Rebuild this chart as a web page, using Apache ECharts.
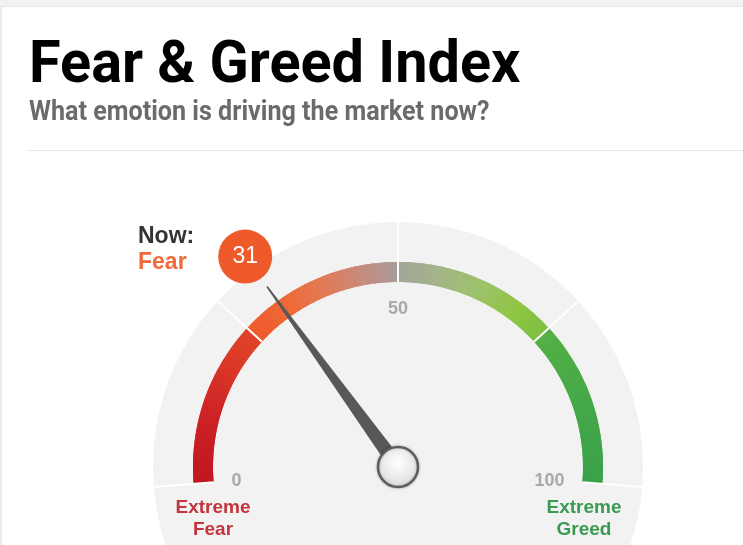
<!DOCTYPE html>
<html>
<head>
<meta charset="utf-8">
<script src="https://cdn.jsdelivr.net/npm/echarts@6/dist/echarts.min.js"></script>
<style>
html,body{margin:0;padding:0;background:#fff;}
#chart{width:743px;height:545px;}
</style>
</head>
<body>
<div id="chart"></div>
<script>
// ---------------- data ----------------
const titleText = 'Fear & Greed Index';
const subtitleText = 'What emotion is driving the market now?';
const scaleMin = 0;
const scaleMax = 100;
const zoneBreaks = [0, 25, 50, 75, 100];
const axisTickLabels = ['0', '50', '100'];
const currentValue = 31;
const currentRating = 'Fear';
const nowLabel = 'Now:';
const endLabels = ['Extreme\nFear', 'Extreme\nGreed'];

// ---------------- style / layout ----------------
const CX = 398, CY = 467;
const START_ANGLE = 184.7, END_ANGLE = -4.7;
const BAND_OUTER = 205, BAND_WIDTH = 20;
const DISK_RADIUS = 245;
const BADGE_RADIUS = 260;

const bandStops = [
  [0, '#c0161f'], [10, '#cc2226'], [20, '#dc3a28'], [25, '#e0442a'],
  [25, '#ee5a2a'], [32, '#ef6a38'], [38, '#e27a55'], [44, '#c98a7c'], [50, '#a89c9b'],
  [50, '#a2a59a'], [56, '#a4b488'], [63, '#9cc26a'], [70, '#8ec640'], [75, '#7cc044'],
  [75, '#54b046'], [85, '#48aa48'], [100, '#3aa04a']
];

function hexToRgb(h) {
  return [parseInt(h.slice(1, 3), 16), parseInt(h.slice(3, 5), 16), parseInt(h.slice(5, 7), 16)];
}
function colorAt(v) {
  for (let i = 0; i < bandStops.length - 1; i++) {
    const a = bandStops[i], b = bandStops[i + 1];
    if (v >= a[0] && v <= b[0] && b[0] > a[0]) {
      const t = (v - a[0]) / (b[0] - a[0]);
      const ca = hexToRgb(a[1]), cb = hexToRgb(b[1]);
      const c = ca.map((x, k) => Math.round(x + (cb[k] - x) * t));
      return 'rgb(' + c.join(',') + ')';
    }
  }
  return bandStops[bandStops.length - 1][1];
}
// build colour segments; `shift` offsets the boundaries so two copies hide each other's seams
function buildBand(step, shift) {
  const out = [];
  let prev = scaleMin;
  let v = scaleMin + shift;
  if (shift <= 0) v += step;
  while (prev < scaleMax - 1e-9) {
    const end = Math.min(v, scaleMax);
    out.push([(end - scaleMin) / (scaleMax - scaleMin), colorAt((prev + end) / 2)]);
    prev = end;
    v += step;
  }
  return out;
}
const STEP = 0.5;
const bandColorsTop = buildBand(STEP, 0);
const bandColorsUnder = buildBand(STEP, STEP / 2);

const chart = echarts.init(document.getElementById('chart'), null, { renderer: 'canvas' });

function bandGauge(colors, z, extra) {
  return Object.assign({
    type: 'gauge', silent: true, z: z,
    center: [CX, CY], radius: BAND_OUTER,
    startAngle: START_ANGLE, endAngle: END_ANGLE,
    min: scaleMin, max: scaleMax, splitNumber: zoneBreaks.length - 1,
    axisLine: { lineStyle: { width: BAND_WIDTH, color: colors } },
    splitLine: { show: false },
    axisTick: { show: false },
    axisLabel: { show: false },
    pointer: { show: false },
    anchor: { show: false },
    title: { show: false },
    detail: { show: false },
    data: []
  }, extra || {});
}

const option = {
  animation: false,
  backgroundColor: '#ffffff',
  graphic: [
    { type: 'rect', shape: { x: 0, y: 0, width: 743, height: 6 }, style: { fill: '#f2f2f2' }, silent: true },
    { type: 'rect', shape: { x: 0, y: 6, width: 743, height: 1 }, style: { fill: '#e6e6e6' }, silent: true },
    { type: 'rect', shape: { x: 0, y: 6, width: 2, height: 539 }, style: { fill: '#ebebeb' }, silent: true },
    { type: 'rect', shape: { x: 27, y: 150, width: 716, height: 1 }, style: { fill: '#e6e6e6' }, silent: true },
    {
      type: 'text', x: 29, y: 67, scaleX: 0.96,
      style: { text: titleText, fill: '#000', font: 'bold 60px Roboto', verticalAlign: 'middle', align: 'left' }
    },
    {
      type: 'text', x: 29, y: 113, scaleX: 0.93,
      style: { text: subtitleText, fill: '#6b6b6b', font: 'bold 27px Roboto', verticalAlign: 'middle', align: 'left' }
    },
    {
      type: 'text', x: 138, y: 237,
      style: { text: nowLabel, fill: '#333333', font: 'bold 23px "Liberation Sans"', verticalAlign: 'middle', align: 'left' }
    },
    {
      type: 'text', x: 138, y: 263,
      style: { text: currentRating, fill: '#f06a3a', font: 'bold 23px "Liberation Sans"', verticalAlign: 'middle', align: 'left' }
    },
    {
      type: 'text', x: 213, y: 519, z: 10,
      style: { text: endLabels[0], fill: '#c4343c', font: 'bold 19px "Liberation Sans"', lineHeight: 22, verticalAlign: 'middle', align: 'center' }
    },
    {
      type: 'text', x: 584, y: 519, z: 10,
      style: { text: endLabels[1], fill: '#3a9a52', font: 'bold 19px "Liberation Sans"', lineHeight: 22, verticalAlign: 'middle', align: 'center' }
    }
  ],
  polar: { center: [CX, CY], radius: 300 },
  angleAxis: {
    type: 'value', startAngle: START_ANGLE, clockwise: true,
    min: scaleMin, max: scaleMin + (scaleMax - scaleMin) * 360 / (START_ANGLE - END_ANGLE),
    show: false, axisLine: { show: false }, axisTick: { show: false }, axisLabel: { show: false }, splitLine: { show: false }
  },
  radiusAxis: {
    type: 'value', min: 0, max: 300,
    show: false, axisLine: { show: false }, axisTick: { show: false }, axisLabel: { show: false }, splitLine: { show: false }
  },
  series: [
    {
      type: 'gauge', silent: true, z: 1,
      center: [CX, CY], radius: DISK_RADIUS,
      startAngle: 90, endAngle: -270,
      axisLine: { lineStyle: { width: DISK_RADIUS, color: [[1, '#f2f2f2']] } },
      axisTick: { show: false }, splitLine: { show: false }, axisLabel: { show: false },
      pointer: { show: false }, anchor: { show: false }, title: { show: false }, detail: { show: false },
      data: []
    },
    bandGauge(bandColorsUnder, 2),
    bandGauge(bandColorsTop, 3, {
      splitLine: { show: true, distance: -60, length: 60, lineStyle: { color: '#ffffff', width: 2 } },
      axisLabel: {
        show: true, distance: 38, color: '#a9a9a9', fontSize: 18, fontWeight: 'bold', fontFamily: 'Liberation Sans',
        formatter: function (v) { return axisTickLabels.indexOf(String(v)) >= 0 ? String(v) : ''; }
      },
      pointer: {
        show: true,
        icon: 'path://M9,0 L11,0 L20,200 L0,200 Z',
        length: 223, width: 15,
        itemStyle: { color: '#58585a' }
      },
      anchor: {
        show: true, showAbove: true, size: 40,
        itemStyle: {
          color: { type: 'radial', x: 0.5, y: 0.4, r: 0.6, colorStops: [{ offset: 0, color: '#ffffff' }, { offset: 1, color: '#dcdcdc' }] },
          borderColor: '#5e5e5e', borderWidth: 2.5,
          shadowBlur: 3, shadowColor: 'rgba(0,0,0,0.25)'
        }
      },
      data: [{ value: currentValue }]
    }),
    {
      type: 'scatter', coordinateSystem: 'polar', silent: true, z: 5,
      symbol: 'circle', symbolSize: 54,
      itemStyle: { color: '#ef5a2b', opacity: 1 },
      label: {
        show: true, position: 'inside', color: '#ffffff', fontSize: 23, fontFamily: 'Liberation Sans',
        formatter: function (p) { return String(p.value[1]); }
      },
      data: [[BADGE_RADIUS, currentValue]]
    }
  ]
};
chart.setOption(option);
</script>
</body>
</html>
